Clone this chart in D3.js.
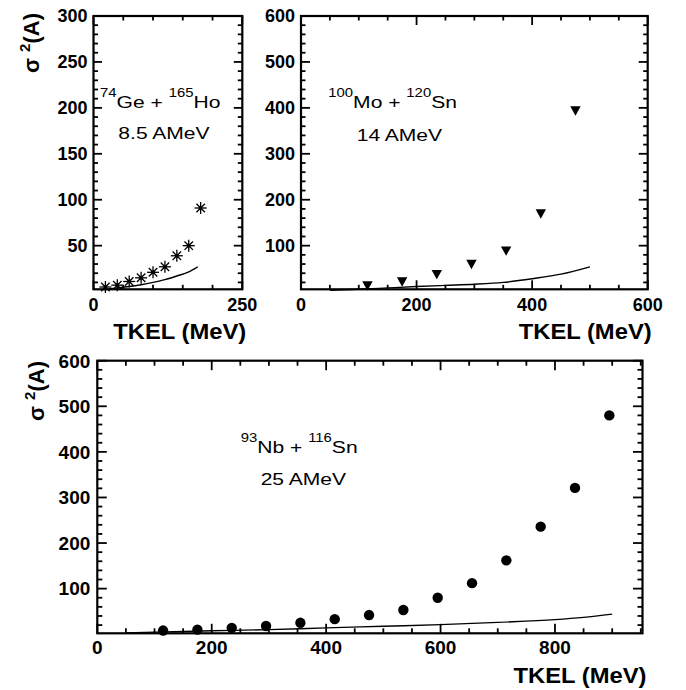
<!DOCTYPE html>
<html><head><meta charset="utf-8">
<script src="https://cdn.jsdelivr.net/npm/d3@7"></script>
<style>body{margin:0;background:#fff}svg{display:block}</style>
</head><body>
<svg id="c" width="686" height="690"></svg>
<script>
// ---- data ----
const geX = [20, 40, 60, 80, 100, 120, 140, 160, 180];
const geY = [5, 7, 11, 15, 21, 27, 39, 50, 91];
const geLineX = [25, 40, 60, 80, 100, 120, 140, 160, 175];
const geLineY = [3, 4, 5.5, 7.5, 10, 13, 17, 21.5, 27];

const moX = [115, 175, 235, 295, 355, 415, 475];
const moY = [14, 23, 39, 61, 90, 171, 395];
const moLineX = [50, 100, 150, 200, 250, 300, 350, 400, 450, 500];
const moLineY = [3, 5, 8, 11, 13.5, 16, 20, 28, 38, 54];

const nbX = [115, 175, 235, 295, 355, 415, 475, 535, 595, 655, 715, 775, 835, 895];
const nbY = [8, 10, 14, 18, 25, 33, 42, 53, 80, 112, 162, 236, 321, 480];
const nbLineX = [50, 100, 200, 300, 400, 500, 600, 700, 800, 850, 900];
const nbLineY = [3, 4.5, 7.5, 10, 14, 17.5, 21, 26, 32, 37, 44];

const p1XTicks = [0, 250];
const p1YTicks = [50, 100, 150, 200, 250, 300];
const p2XTicks = [0, 200, 400, 600];
const p2YTicks = [100, 200, 300, 400, 500, 600];
const p3XTicks = [0, 200, 400, 600, 800];
const p3YTicks = [100, 200, 300, 400, 500, 600];

const svg = d3.select("#c");
const FONT = "'Liberation Sans', Arial, Helvetica, sans-serif";

function panel(cfg) {
  const x = d3.scaleLinear().domain(cfg.xd).range([cfg.l, cfg.r]);
  const y = d3.scaleLinear().domain(cfg.yd).range([cfg.b, cfg.t]);
  const g = svg.append("g");
  const xMinor = d3.range(0, cfg.xd[1] + 1e-9, cfg.xmin).filter(v => cfg.xmaj.indexOf(v) < 0);
  const yMinor = d3.range(0, cfg.yd[1] + 1e-9, cfg.ymin).filter(v => v > cfg.yd[0] && cfg.ymaj.indexOf(v) < 0);
  const xt = cfg.xmaj.map(v => [v, cfg.majLen]).concat(xMinor.map(v => [v, cfg.minLen]));
  const yt = cfg.ymaj.map(v => [v, cfg.majLen]).concat(yMinor.map(v => [v, cfg.minLen]));

  g.append("rect").attr("x", cfg.l).attr("y", cfg.t).attr("width", cfg.r - cfg.l)
    .attr("height", cfg.b - cfg.t).attr("fill", "none").attr("stroke", "#000").attr("stroke-width", 2.2);

  const TK = "#000", TW = 1.8;
  const tg = svg.append("g");
  xt.forEach(d => {
    const px = x(d[0]);
    tg.append("line").attr("x1", px).attr("x2", px).attr("y1", cfg.b).attr("y2", cfg.b - d[1])
      .attr("stroke", TK).attr("stroke-width", TW);
    tg.append("line").attr("x1", px).attr("x2", px).attr("y1", cfg.t).attr("y2", cfg.t + d[1])
      .attr("stroke", TK).attr("stroke-width", TW);
  });
  yt.forEach(d => {
    const py = y(d[0]);
    tg.append("line").attr("y1", py).attr("y2", py).attr("x1", cfg.l).attr("x2", cfg.l + d[1])
      .attr("stroke", TK).attr("stroke-width", TW);
    tg.append("line").attr("y1", py).attr("y2", py).attr("x1", cfg.r).attr("x2", cfg.r - d[1])
      .attr("stroke", TK).attr("stroke-width", TW);
  });

  const lg = g.append("g").attr("font-family", FONT).attr("font-weight", "bold")
    .attr("font-size", cfg.tickFs).attr("fill", "#000");
  cfg.xmaj.forEach(v => {
    lg.append("text").attr("x", x(v)).attr("y", cfg.b + cfg.xlab).attr("text-anchor", "middle").text(v);
  });
  cfg.ymaj.forEach(v => {
    lg.append("text").attr("x", cfg.l - cfg.ypad).attr("y", y(v)).attr("dy", "0.36em")
      .attr("text-anchor", "end").text(v);
  });

  const line = d3.line().x(d => x(d[0])).y(d => y(d[1])).curve(d3.curveMonotoneX);
  g.append("path").datum(d3.zip(cfg.lx, cfg.ly)).attr("d", line)
    .attr("fill", "none").attr("stroke", "#000").attr("stroke-width", 1.4);

  const pts = d3.zip(cfg.px, cfg.py);
  const mg = g.append("g");
  if (cfg.marker === "star") {
    pts.forEach(([a, b]) => {
      const cx = x(a), cy = y(b), s = 6;
      const mk = mg.append("g").attr("transform", `translate(${cx},${cy})`);
      [0, 45, 90, 135].forEach(ang => {
        const r = ang * Math.PI / 180;
        mk.append("line").attr("x1", -s * Math.cos(r)).attr("y1", -s * Math.sin(r))
          .attr("x2", s * Math.cos(r)).attr("y2", s * Math.sin(r))
          .attr("stroke", "#000").attr("stroke-width", 1.3);
      });
      mk.append("rect").attr("x", -1.8).attr("y", -1.8).attr("width", 3.6).attr("height", 3.6).attr("fill", "#000");
    });
  } else if (cfg.marker === "tri") {
    pts.forEach(([a, b]) => {
      const cx = x(a), cy = y(b);
      mg.append("path").attr("d", `M${cx - 5.2},${cy - 3.8}L${cx + 5.2},${cy - 3.8}L${cx},${cy + 5.6}Z`).attr("fill", "#000");
    });
  } else {
    mg.selectAll("circle").data(pts).enter().append("circle")
      .attr("cx", d => x(d[0])).attr("cy", d => y(d[1])).attr("r", 5.2).attr("fill", "#000");
  }

  g.append("text").attr("x", cfg.r + 4).attr("y", cfg.xtY).attr("text-anchor", "end")
    .attr("font-family", FONT).attr("font-weight", "bold").attr("font-size", 22)
    .attr("textLength", 133).attr("lengthAdjust", "spacingAndGlyphs").text("TKEL (MeV)");

  if (cfg.ytitle) {
    const t = g.append("text").attr("transform", `translate(${cfg.ytitle[0]},${cfg.ytitle[1]}) rotate(-90)`)
      .attr("text-anchor", "end").attr("font-family", FONT).attr("font-weight", "bold").attr("font-size", 22);
    t.append("tspan").text("σ ");
    t.append("tspan").attr("font-size", 15).attr("dy", -9).text("2");
    t.append("tspan").attr("dy", 9).text("(A)");
  }

  const an = g.append("g").attr("transform", `translate(${cfg.ann[0]},${cfg.ann[1]}) scale(1.24,1)`);
  const t1 = an.append("text").attr("font-family", FONT).attr("font-size", 17).attr("fill", "#000");
  t1.append("tspan").attr("font-size", 12).attr("dy", -11).text(cfg.annA[0]);
  t1.append("tspan").attr("dy", 11).text(cfg.annA[1]);
  t1.append("tspan").attr("font-size", 12).attr("dy", -11).text(cfg.annA[2]);
  t1.append("tspan").attr("dy", 11).text(cfg.annA[3]);
  an.append("text").attr("x", cfg.ann2[0]).attr("y", cfg.ann2[1]).attr("font-family", FONT)
    .attr("font-size", 17).attr("fill", "#000").text(cfg.annB);
}

panel({ l: 93.5, r: 242.3, t: 16, b: 289.3, xd: [0, 250], yd: [2.5, 300],
  xmaj: p1XTicks, xmin: 50, ymaj: p1YTicks, ymin: 10, majLen: 8.5, minLen: 4.5,
  tickFs: 18, xlab: 21.5, ypad: 6, xtY: 339,
  px: geX, py: geY, lx: geLineX, ly: geLineY, marker: "star",
  ytitle: [39, 13], ann: [100, 108.3], annA: ["74", "Ge + ", "165", "Ho"], ann2: [14.8, 31], annB: "8.5 AMeV" });

panel({ l: 301, r: 647.7, t: 16, b: 289.3, xd: [0, 600], yd: [5, 600],
  xmaj: p2XTicks, xmin: 50, ymaj: p2YTicks, ymin: 20, majLen: 9, minLen: 4.5,
  tickFs: 18, xlab: 21.5, ypad: 6, xtY: 339,
  px: moX, py: moY, lx: moLineX, ly: moLineY, marker: "tri",
  ytitle: null, ann: [328.3, 108.3], annA: ["100", "Mo + ", "120", "Sn"], ann2: [22.9, 33], annB: "14 AMeV" });

panel({ l: 97.3, r: 642.5, t: 360.7, b: 633.3, xd: [0, 953], yd: [2, 600],
  xmaj: p3XTicks, xmin: 50, ymaj: p3YTicks, ymin: 20, majLen: 9.5, minLen: 5,
  tickFs: 19, xlab: 21, ypad: 7, xtY: 683,
  px: nbX, py: nbY, lx: nbLineX, ly: nbLineY, marker: "dot",
  ytitle: [44, 361], ann: [240.7, 452.7], annA: ["93", "Nb + ", "116", "Sn"], ann2: [16.1, 32.3], annB: "25 AMeV" });
</script>
</body></html>
